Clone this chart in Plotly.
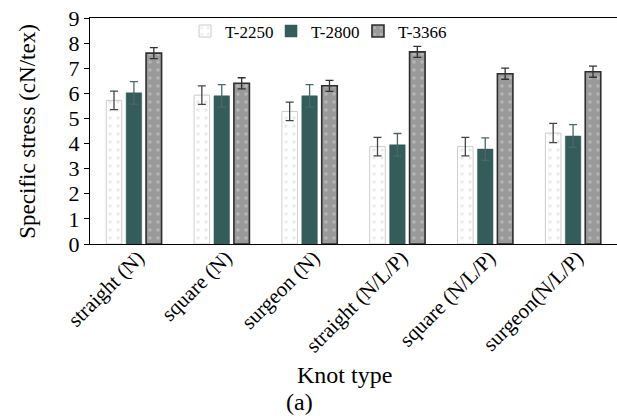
import plotly.graph_objects as go

categories = ["straight (N)", "square (N)", "surgeon (N)", "straight (N/L/P)", "square (N/L/P)", "surgeon(N/L/P)"]
series_names = ["T-2250", "T-2800", "T-3366"]
t2250 = [5.72, 5.93, 5.28, 3.88, 3.88, 4.42]
t2250_err = [0.37, 0.37, 0.37, 0.37, 0.37, 0.38]
t2800 = [6.02, 5.90, 5.90, 3.95, 3.78, 4.30]
t2800_err = [0.45, 0.45, 0.45, 0.45, 0.45, 0.45]
t3366 = [7.60, 6.40, 6.30, 7.65, 6.78, 6.86]
t3366_err = [0.22, 0.22, 0.22, 0.22, 0.22, 0.22]
y_ticks = list(range(0, 10))

FONT = "Liberation Serif, Times New Roman, serif"

fig = go.Figure()
fig.add_trace(go.Bar(
    name=series_names[0], x=categories, y=t2250, legend="legend",
    error_y=dict(type="data", array=t2250_err, color="#454545", thickness=1.3, width=4),
    marker=dict(color="white", line=dict(color="#cccccc", width=1),
                pattern=dict(shape=".", bgcolor="white", fgcolor="#d5d5d5", size=8, solidity=0.15)),
))
fig.add_trace(go.Bar(
    name=series_names[1], x=categories, y=t2800, legend="legend2",
    error_y=dict(type="data", array=t2800_err, color="#4b6867", thickness=1.3, width=4),
    marker=dict(color="#345c5a", line=dict(color="#345c5a", width=0.5)),
))
fig.add_trace(go.Bar(
    name=series_names[2], x=categories, y=t3366, legend="legend3",
    error_y=dict(type="data", array=t3366_err, color="#333333", thickness=1.3, width=4),
    marker=dict(color="#9a9a9a", line=dict(color="#2e2e2e", width=1.6),
                pattern=dict(shape=".", bgcolor="#9a9a9a", fgcolor="#d0d0d0", size=8, solidity=0.15)),
))

legend_style = dict(orientation="h", y=1.02, xanchor="left", yanchor="top",
                    font=dict(family=FONT, size=17), bgcolor="rgba(0,0,0,0)", itemwidth=30)

fig.update_layout(
    width=617, height=416,
    margin=dict(l=90, r=0, t=18, b=172, autoexpand=False),
    paper_bgcolor="white", plot_bgcolor="white",
    barmode="group", bargap=0.32, bargroupgap=0.22,
    font=dict(family=FONT, color="black"),
    showlegend=True,
    legend=dict(x=0.1803, **legend_style),
    legend2=dict(x=0.3435, **legend_style),
    legend3=dict(x=0.5085, **legend_style),
    xaxis=dict(showline=True, linecolor="black", linewidth=1.2, mirror=True,
               ticks="", tickangle=-45, tickfont=dict(family=FONT, size=21),
               ticklabelstandoff=-8, ticklabelshift=4,
               showgrid=False, automargin=False),
    yaxis=dict(range=[0, 9], tickvals=y_ticks, showline=True, linecolor="black", linewidth=1.2,
               ticks="outside", ticklen=5, tickcolor="black", tickfont=dict(family=FONT, size=22),
               ticklabeloverflow="allow",
               showgrid=False, zeroline=False, automargin=False),
    annotations=[
        dict(text="Specific stress (cN/tex)", xref="paper", yref="paper", x=-0.12, y=0.5,
             textangle=-90, showarrow=False, font=dict(family=FONT, size=23),
             xanchor="center", yanchor="middle"),
        dict(text="Knot type", xref="paper", yref="paper", x=0.482, y=-0.58,
             showarrow=False, font=dict(family=FONT, size=24), xanchor="center", yanchor="middle"),
        dict(text="(a)", xref="paper", yref="paper", x=0.398, y=-0.699,
             showarrow=False, font=dict(family=FONT, size=24), xanchor="center", yanchor="middle"),
    ],
)

# remove the browser's default 8px page margin so the figure fills the window exactly
fig.write_html("out.html", config={"displayModeBar": False},
               post_script="document.body.style.margin='0';")
